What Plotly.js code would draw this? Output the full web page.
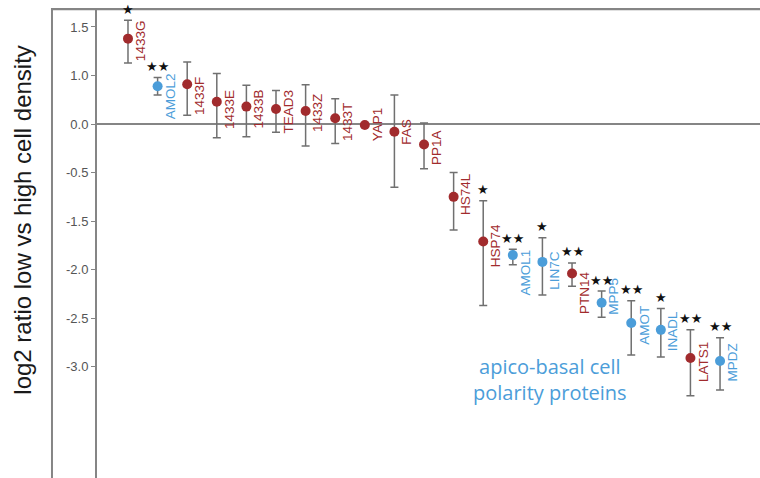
<!DOCTYPE html>
<html><head><meta charset="utf-8">
<script src="https://cdn.plot.ly/plotly-3.0.1.min.js"></script>
<style>html,body{margin:0;padding:0;background:#fff}#chart{width:760px;height:478px}</style>
</head><body><div id="chart"></div>
<script>
// ---- data (values in the axis' own units: zero line = 0, one tick step = 0.5) ----
const proteins = ['1433G','AMOL2','1433F','1433E','1433B','TEAD3','1433Z','1433T','YAP1','FAS','PP1A',
                  'HS74L','HSP74','AMOL1','LIN7C','PTN14','MPP5','AMOT','INADL','LATS1','MPDZ'];
const log2Ratio = [0.88, 0.39, 0.41, 0.23, 0.18, 0.155, 0.135, 0.06, -0.01, -0.08, -0.21,
                   -0.75, -1.21, -1.35, -1.42, -1.54, -1.84, -2.05, -2.12, -2.41, -2.44];
const errUp     = [0.19, 0.09, 0.23, 0.29, 0.22, 0.19, 0.27, 0.20, 0.0, 0.38, 0.22,
                   0.25, 0.42, 0.06, 0.25, 0.11, 0.12, 0.23, 0.22, 0.29, 0.24];
const errDown   = [0.25, 0.09, 0.32, 0.37, 0.31, 0.24, 0.36, 0.26, 0.0, 0.57, 0.25,
                   0.34, 0.66, 0.10, 0.34, 0.13, 0.15, 0.33, 0.28, 0.39, 0.30];
const polarityGroup = ['other','polarity','other','other','other','other','other','other','other','other','other',
                       'other','other','polarity','polarity','other','polarity','polarity','polarity','other','polarity'];
const significance = ['*','**','','','','','','','','','',
                      '','*','**','*','**','**','**','*','**','**'];
const yTickVals = [1.0, 0.5, 0, -0.5, -1.0, -1.5, -2.0, -2.5];
const yTickText = ['1.5','1.0','0.0','-0.5','-1.5','-2.0','-2.5','-3.0'];
const yTitle = 'log2 ratio low vs high cell density';
const groupNote = 'apico-basal cell<br>polarity proteins';

// ---- styles ----
const RED = '#a12b2d', BLUE = '#4b9dd9', AX = '#858585';
const labelDy = [2,10,12,8,2,3,2,4,-1,0,3,-3,4,17,8,19,-6,2,1,4,2];

function groupTrace(g, color) {
  const idx = proteins.map((p, i) => i).filter(i => polarityGroup[i] === g);
  return {
    type: 'scatter', mode: 'markers',
    x: idx.map(i => proteins[i]), y: idx.map(i => log2Ratio[i]),
    marker: {color: color, size: 10},
    error_y: {type: 'data', symmetric: false,
              array: idx.map(i => errUp[i]), arrayminus: idx.map(i => errDown[i]),
              color: '#707070', thickness: 1.5, width: 4},
    showlegend: false, hoverinfo: 'skip'
  };
}

const annotations = [];
proteins.forEach((p, i) => {
  annotations.push({
    x: p, y: log2Ratio[i], xref: 'x', yref: 'y', text: p, showarrow: false,
    textangle: -90, xanchor: 'left', yanchor: 'middle', xshift: 3, yshift: -labelDy[i],
    font: {family: 'Liberation Sans, Arial, sans-serif', size: 13.5,
           color: polarityGroup[i] === 'polarity' ? BLUE : RED}
  });
  if (significance[i]) {
    annotations.push({
      x: p, y: log2Ratio[i] + errUp[i], xref: 'x', yref: 'y',
      text: significance[i].replace(/\*/g, '★'), showarrow: false,
      xanchor: 'center', yanchor: 'middle', yshift: 11,
      font: {family: 'DejaVu Sans, sans-serif', size: 13, color: '#111'}
    });
  }
});
annotations.push({
  xref: 'paper', yref: 'paper', x: -0.1116, y: 0.552, text: yTitle, showarrow: false,
  textangle: -90, xanchor: 'center', yanchor: 'middle',
  font: {family: 'Liberation Sans, Arial, sans-serif', size: 24, color: '#1a1a1a'}
});
annotations.push({
  xref: 'paper', yref: 'paper', x: 0.683, y: 0.211, text: groupNote, showarrow: false,
  xanchor: 'center', yanchor: 'middle', align: 'center',
  font: {family: 'Open Sans, sans-serif', size: 20, color: BLUE}
});

const layout = {
  width: 760, height: 478,
  margin: {l: 97, r: 0, t: 10, b: 0, pad: 0},
  paper_bgcolor: '#fff', plot_bgcolor: '#fff',
  xaxis: {type: 'category', categoryorder: 'array', categoryarray: proteins,
          range: [-1.047, 21.35], showgrid: false, zeroline: false,
          showline: false, showticklabels: false, ticks: ''},
  yaxis: {range: [-3.646, 1.175], tickmode: 'array', tickvals: yTickVals, ticktext: yTickText,
          ticks: 'outside', ticklen: 4, tickwidth: 1, tickcolor: AX,
          showline: true, linecolor: AX, linewidth: 2,
          zeroline: true, zerolinecolor: AX, zerolinewidth: 2, showgrid: false,
          tickfont: {family: 'Liberation Sans, Arial, sans-serif', size: 13, color: '#555'}},
  shapes: [
    {type: 'rect', xref: 'paper', yref: 'paper', layer: 'above',
     x0: -0.0694, x1: -0.0664, y0: 0, y1: 1.0043,
     fillcolor: AX, line: {width: 0}},
    {type: 'rect', xref: 'paper', yref: 'paper', layer: 'above',
     x0: -0.0694, x1: 1, y0: 0.9995, y1: 1.0043,
     fillcolor: AX, line: {width: 0}}
  ],
  annotations: annotations
};

Plotly.newPlot('chart', [groupTrace('other', RED), groupTrace('polarity', BLUE)], layout,
               {displayModeBar: false, staticPlot: true});
</script></body></html>
